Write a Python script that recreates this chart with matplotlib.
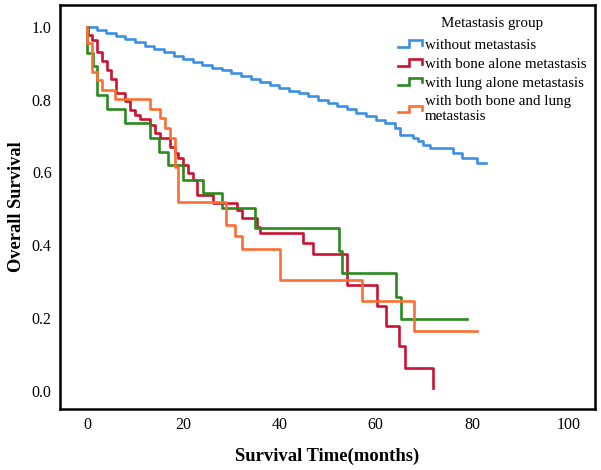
import matplotlib
matplotlib.use('Agg')
import matplotlib.pyplot as plt
from matplotlib.lines import Line2D
from matplotlib.legend_handler import HandlerBase

plt.rcParams['font.family'] = ['Liberation Serif', 'DejaVu Serif']

# Kaplan-Meier step data (months, survival)
t_none = [0, 2, 4, 6, 8, 10, 12, 14, 16, 18, 20, 22, 24, 26, 28, 30, 32, 34, 36, 38,
          40, 42, 44, 46, 48, 50, 52, 54, 56, 58, 60, 62, 64, 65, 67.8, 68.8, 69.9,
          71.3, 76.1, 78.0, 81.1, 83]
s_none = [1.0, 0.99, 0.982, 0.975, 0.966, 0.958, 0.948, 0.94, 0.93, 0.921, 0.912,
          0.904, 0.896, 0.888, 0.88, 0.873, 0.866, 0.858, 0.849, 0.841, 0.833, 0.825,
          0.817, 0.809, 0.80, 0.791, 0.782, 0.773, 0.764, 0.755, 0.745, 0.735, 0.722,
          0.703, 0.694, 0.685, 0.676, 0.667, 0.653, 0.640, 0.626, 0.626]

t_bone = [0, 0.3, 1.0, 2.0, 3.05, 4.1, 5.1, 6.0, 7.9, 8.9, 10.0, 11.0, 13.1, 14.1,
          15.2, 17.3, 18.3, 19.0, 20.0, 21.0, 22.0, 22.8, 26.3, 31.1, 32.2, 35.3, 36.0,
          45.0, 47.0, 54.0, 60.2, 62.2, 64.9, 66.1, 72.0]
s_bone = [1.0, 0.978, 0.964, 0.93, 0.905, 0.882, 0.857, 0.818, 0.795, 0.772, 0.758,
          0.747, 0.731, 0.709, 0.695, 0.671, 0.654, 0.64, 0.621, 0.599, 0.58, 0.538,
          0.517, 0.497, 0.474, 0.451, 0.433, 0.405, 0.375, 0.291, 0.233, 0.177, 0.122,
          0.062, 0.007]

t_lung = [0, 0.1, 1.3, 2.0, 4.1, 7.9, 13.1, 15.0, 16.9, 20.0, 24.2, 28.1, 34.9, 52.3,
          53.1, 64.2, 65.2, 78.9]
s_lung = [1.0, 0.927, 0.891, 0.813, 0.774, 0.735, 0.694, 0.657, 0.621, 0.58, 0.543,
          0.502, 0.447, 0.383, 0.323, 0.257, 0.197, 0.197]

t_both = [0, 0.1, 1.0, 2.0, 3.05, 5.8, 13.1, 15.2, 16.2, 17.3, 18.3, 19.0, 29.0, 30.8,
          32.2, 40.1, 57.1, 68.0, 81.0]
s_both = [1.0, 0.955, 0.877, 0.854, 0.827, 0.801, 0.774, 0.749, 0.721, 0.694, 0.616,
          0.52, 0.456, 0.424, 0.389, 0.305, 0.248, 0.165, 0.165]

labels = ['without metastasis', 'with bone alone metastasis',
          'with lung alone metastasis', 'with both bone and lung\nmetastasis']
colors = ['#3d8fe3', '#c81432', '#2a8a1e', '#fb6f33']


# small step-shaped legend glyph
class StepHandler(HandlerBase):
    def create_artists(self, legend, orig_handle, xdescent, ydescent,
                       width, height, fontsize, trans):
        x0, y0 = -xdescent, -ydescent
        xs = [x0, x0 + 0.45 * width, x0 + 0.45 * width, x0 + width, x0 + width]
        ys = [y0 + 0.15 * height, y0 + 0.15 * height, y0 + 0.8 * height,
              y0 + 0.8 * height, y0 + 0.4 * height]
        ln = Line2D(xs, ys, color=orig_handle.get_color(),
                    lw=orig_handle.get_linewidth(), solid_joinstyle='miter')
        ln.set_transform(trans)
        return [ln]


fig = plt.figure(figsize=(6.01, 4.70), dpi=100)
ax = fig.add_axes([0.0998, 0.1298, 0.8904, 0.8596])

handles = []
for t, s, c, lab in zip([t_none, t_bone, t_lung, t_both],
                        [s_none, s_bone, s_lung, s_both], colors, labels):
    h, = ax.step(t, s, where='post', color=c, lw=1.9, label=lab)
    handles.append(h)

ax.set_xlim(-5.6, 105.6)
ax.set_ylim(-0.05, 1.06)
ax.set_xticks([0, 20, 40, 60, 80, 100])
ax.set_yticks([0.0, 0.2, 0.4, 0.6, 0.8, 1.0])
ax.set_yticklabels(['0.0', '0.2', '0.4', '0.6', '0.8', '1.0'])
ax.tick_params(length=0, labelsize=11.5, pad=6)
for sp in ax.spines.values():
    sp.set_linewidth(1.8)

ax.set_xlabel('Survival Time(months)', fontsize=13.4, fontweight='bold', labelpad=10)
ax.set_ylabel('Overall Survival', fontsize=13.2, fontweight='bold', labelpad=5)

leg = ax.legend(handles=handles, handler_map={Line2D: StepHandler()},
                title='Metastasis group', loc='upper left',
                bbox_to_anchor=(0.61, 1.0), frameon=False, fontsize=10.8,
                title_fontsize=10.8, handlelength=1.6, handletextpad=0.15,
                labelspacing=0.36, borderpad=0.3)
leg._legend_box.sep = 6  # a bit more room under the title

fig.savefig('out.png', dpi=100)
